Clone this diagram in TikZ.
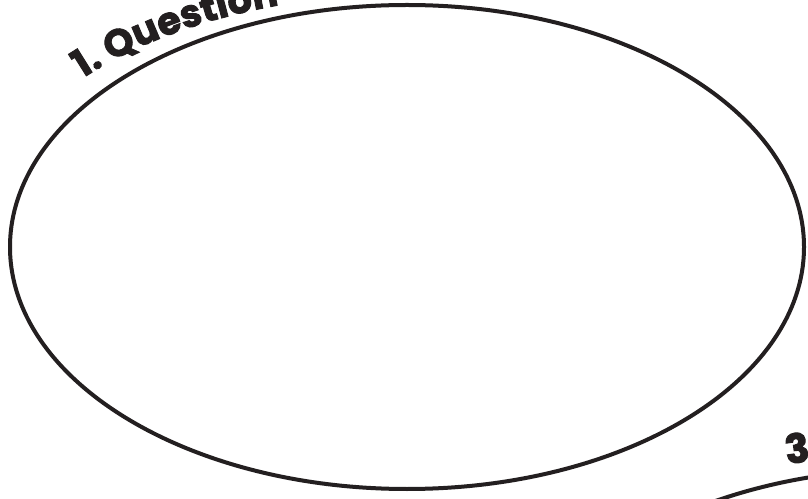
\documentclass[tikz,border=0pt]{standalone}
\usepackage{fontspec}
\usepackage{tikz}
\usetikzlibrary{shapes.geometric,decorations.text}
\newfontfamily\bubblefont{Poppins}[BoldFeatures={FakeBold=2.5}]
\definecolor{BubbleInk}{HTML}{231F20}
\tikzset{bubble/.style={draw=BubbleInk,ellipse,line width=4pt,minimum width=794pt,minimum height=484pt,inner sep=0pt}}

\begin{document}
\begin{tikzpicture}[x=1pt,y=1pt,every node/.style={font=\bubblefont\bfseries\fontsize{40}{44}\selectfont,text=BubbleInk}]
  \useasboundingbox (0,0) rectangle (808,498);
  \clip (0,0) rectangle (808,498);
  \node[bubble] (question) at (407,251) {};
  \node[bubble] (three) at (913,-213) {};
  \path[decorate,decoration={text along path,text align=left,text color=BubbleInk,raise=5pt,
      text={|\bubblefont\bfseries\fontsize{38}{42}\selectfont|1. Question}}]
    (question.center) ++(138.5:430pt and 248pt) arc[start angle=138.5,end angle=40,x radius=430pt,y radius=248pt];
  \node[rotate=8,anchor=south,inner sep=0pt] (threelabel) at (799,35) {3};
\end{tikzpicture}
\end{document}
